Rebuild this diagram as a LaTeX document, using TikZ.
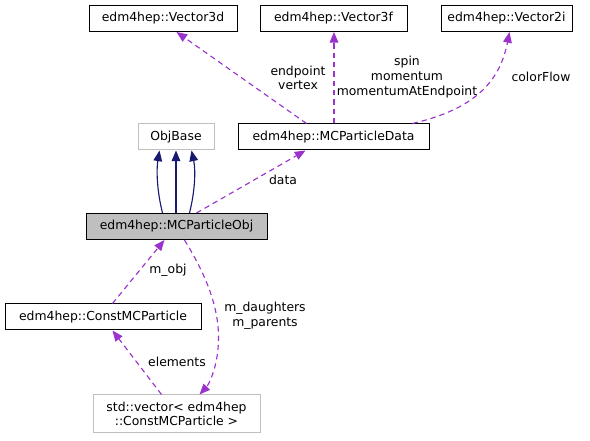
\documentclass[tikz,border=0pt]{standalone}
\usepackage{fontspec}
\setmainfont{DejaVu Sans}
\usepackage{tikz}
\usetikzlibrary{arrows.meta,calc}
\definecolor{dxNavy}{HTML}{191970}
\definecolor{dxPurple}{HTML}{9A32CD}
\definecolor{dxGrey}{HTML}{BFBFBF}
\tikzset{
  classbox/.style={rectangle,draw=black,line width=0.75pt,fill=white,inner sep=0pt,
    minimum height=19.5pt,align=center,font=\fontsize{9.3}{11}\selectfont},
  extbox/.style={classbox,draw=dxGrey},
  mainbox/.style={classbox,fill=dxGrey},
  inherit/.style={-{Triangle[length=8pt,width=6.5pt]},draw=dxNavy,line width=0.85pt},
  usage/.style={-{Triangle[length=8pt,width=6.5pt]},draw=dxPurple,line width=0.85pt,
    dash pattern=on 4pt off 3pt},
  edgelabel/.style={align=center,font=\fontsize{9.3}{11}\selectfont,inner sep=0pt}
}
\begin{document}
\begin{tikzpicture}[x=0.75pt,y=-0.75pt]
  \useasboundingbox (0,0) rectangle (590,441);
  % top row
  \node[classbox, minimum width=111pt] (v3d) at (163,18.5) {edm4hep::Vector3d};
  \node[classbox, minimum width=110.25pt] (v3f) at (333.5,18.5) {edm4hep::Vector3f};
  \node[classbox, minimum width=98.25pt] (v2i) at (506.5,18.5) {edm4hep::Vector2i};
  % middle rows
  \node[extbox, minimum width=57pt] (base) at (176,137) {ObjBase};
  \node[classbox, minimum width=143.25pt] (data) at (333.5,137) {edm4hep::MCParticleData};
  \node[mainbox, minimum width=135.75pt] (obj) at (176.5,226.5) {edm4hep::MCParticleObj};
  \node[classbox, minimum width=147pt] (cmp) at (103,317) {edm4hep::ConstMCParticle};
  \node[extbox, minimum width=125.25pt, minimum height=28.5pt] (vec) at (176.5,414)
    {std::vector< edm4hep\\::ConstMCParticle >};
  % inheritance
  \draw[inherit] ($(obj.north west)+(77,0)$) .. controls ($(obj.north west)+(71,-24)$) and ($(obj.north west)+(71,-44)$) .. ($(base.south west)+(22,0)$);
  \draw[inherit] ($(obj.north west)+(90.5,0)$) -- ($(base.south west)+(38.5,0)$);
  \draw[inherit] ($(obj.north west)+(104,0)$) .. controls ($(obj.north west)+(110,-24)$) and ($(obj.north west)+(110,-44)$) .. ($(base.south west)+(54,0)$);
  % members
  \draw[usage] ($(data.north west)+(69,0)$) -- ($(v3d.south west)+(88,0)$);
  \draw[usage] ($(data.north west)+(96.5,0)$) -- ($(v3f.south west)+(74.5,0)$);
  \draw[usage] ($(data.north west)+(175,0)$) .. controls ($(data.north west)+(235,-14)$) and ($(data.north west)+(262,-40)$) .. ($(v2i.south west)+(69,0)$);
  \draw[usage] ($(obj.north west)+(111,0)$) -- ($(data.south west)+(68,0)$);
  \draw[usage] ($(cmp.north west)+(108,0)$) -- ($(obj.south west)+(79,0)$);
  \draw[usage] ($(vec.north west)+(69,0)$) -- ($(cmp.south west)+(108,0)$);
  \draw[usage] ($(obj.south west)+(99,0)$) .. controls ($(obj.south west)+(118,31)$) and ($(obj.south west)+(134,65)$) .. ($(obj.south west)+(133,101)$)
    .. controls ($(obj.south west)+(132,130)$) and ($(obj.south west)+(122,146)$) .. ($(vec.north west)+(107,0)$);
  % labels
  \node[edgelabel] (lv3d) at (298,78) {endpoint\\vertex};
  \node[edgelabel] (lv3f) at (407,77) {spin\\momentum\\momentumAtEndpoint};
  \node[edgelabel] (lv2i) at (541,77) {colorFlow};
  \node[edgelabel] (ldata) at (283,180) {data};
  \node[edgelabel] (lobj) at (168,270) {m\_obj};
  \node[edgelabel] (lvec) at (265,316) {m\_daughters\\m\_parents};
  \node[edgelabel] (lcmp) at (177,362) {elements};
\end{tikzpicture}
\end{document}
